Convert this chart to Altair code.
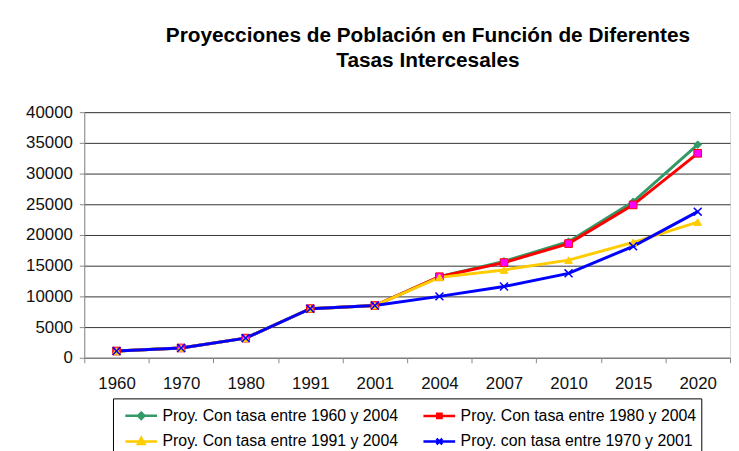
import altair as alt
import pandas as pd

years = ["1960", "1970", "1980", "1991", "2001", "2004", "2007", "2010", "2015", "2020"]
series_names = [
    "Proy. Con tasa entre 1960 y 2004",
    "Proy. Con tasa entre 1980 y 2004",
    "Proy. Con tasa entre 1991 y 2004",
    "Proy. con tasa entre 1970 y 2001",
]
s1960_2004 = [1100, 1600, 3200, 8000, 8500, 13200, 15700, 18900, 25400, 34700]
s1980_2004 = [1100, 1600, 3200, 8000, 8500, 13200, 15500, 18600, 24900, 33300]
s1991_2004 = [1100, 1600, 3200, 8000, 8500, 13100, 14300, 15900, 18800, 22100]
s1970_2001 = [1100, 1600, 3200, 8000, 8500, 10000, 11600, 13750, 18150, 23800]
y_ticks = [0, 5000, 10000, 15000, 20000, 25000, 30000, 35000, 40000]
title_lines = ["Proyecciones de Población en Función de Diferentes", "Tasas Intercesales"]

line_colors = ["#339966", "#ff0000", "#ffcc00", "#0000ff"]
marker_fills = ["#339966", "#ff00ff", "#ffcc00", "#0000ff"]
marker_shapes = ["diamond", "square", "triangle-up", "M-1,-1L1,1M-1,1L1,-1"]
legend_shapes = [
    "M-0.42,0H2.25M0.92,-0.27L1.19,0L0.92,0.27L0.65,0Z",
    "M-0.42,0H2.25M0.74,-0.18H1.1V0.18H0.74Z",
    "M-0.42,0H2.25M0.92,-0.3L1.2,0.22L0.64,0.22Z",
    "M-0.42,0H2.25M0.68,-0.24L1.16,0.24M0.68,0.24L1.16,-0.24",
]

rows = []
for name, vals in zip(series_names, [s1960_2004, s1980_2004, s1991_2004, s1970_2001]):
    for yr, v in zip(years, vals):
        rows.append({"year": yr, "value": v, "serie": name})
df = pd.DataFrame(rows)

x_enc = alt.X(
    "year:N",
    sort=years,
    bandPosition=0.5,
    scale=alt.Scale(type="band", paddingInner=0, paddingOuter=0),
    axis=alt.Axis(
        title=None, labelAngle=0, tickBand="extent", tickSize=5, labelPadding=13,
        labelFont="Liberation Sans", labelFontSize=17,
        labelColor="#111", domainColor="#888", tickColor="#888", grid=False,
    ),
)
y_enc = alt.Y(
    "value:Q",
    scale=alt.Scale(domain=[0, 40000], nice=False),
    axis=alt.Axis(
        title=None, values=y_ticks, format="d", tickSize=5, labelPadding=7,
        labelFont="Liberation Sans", labelFontSize=17, labelColor="#111",
        domainColor="#888", tickColor="#888", grid=True, gridColor="#333", gridWidth=1,
    ),
)

base = alt.Chart(df).encode(x=x_enc, y=y_enc)

layers = []
for i, name in enumerate(series_names):
    sub = base.transform_filter(alt.datum.serie == name)
    layers.append(sub.mark_line(color=line_colors[i], strokeWidth=3))
for i, name in enumerate(series_names):
    sub = base.transform_filter(alt.datum.serie == name)
    if i == 3:
        pts = sub.mark_point(shape=marker_shapes[i], filled=False, stroke=line_colors[i],
                             strokeWidth=1.5, size=64, opacity=1)
    else:
        pts = sub.mark_point(shape=marker_shapes[i], filled=True, fill=marker_fills[i],
                             stroke=line_colors[i], strokeWidth=1, size=60, opacity=1)
    layers.append(pts)

leg = alt.Legend(
    title=None, orient="none", legendX=29, legendY=289, columns=2, direction="horizontal",
    symbolSize=576, symbolStrokeWidth=2.5, symbolOpacity=1,
    labelFont="Liberation Sans", labelFontSize=16,
    labelColor="#000", fillColor="white", strokeColor="#000", padding=4,
    rowPadding=4, columnPadding=16, labelOffset=19, labelLimit=400,
)
legend_layer = alt.Chart(df).transform_filter("false").mark_point(filled=True, opacity=1).encode(
    fill=alt.Fill("serie:N", scale=alt.Scale(domain=series_names, range=marker_fills), legend=leg),
    stroke=alt.Stroke("serie:N", scale=alt.Scale(domain=series_names, range=line_colors), legend=leg),
    shape=alt.Shape("serie:N", scale=alt.Scale(domain=series_names, range=legend_shapes), legend=leg),
)
layers.append(legend_layer)

chart = alt.layer(*layers).properties(
    width=652,
    height=248,
    padding={"left": 17, "top": 15, "right": 0, "bottom": 0},
    title=alt.TitleParams(
        title_lines, font="Liberation Sans", fontSize=21, fontWeight="bold",
        anchor="middle", dx=21, lineHeight=25, offset=33, color="#000",
    ),
).configure_view(fill="#d8d8d8", stroke=None).configure(background="white")

chart.save("out.html", embed_options={"renderer": "svg", "actions": False})
